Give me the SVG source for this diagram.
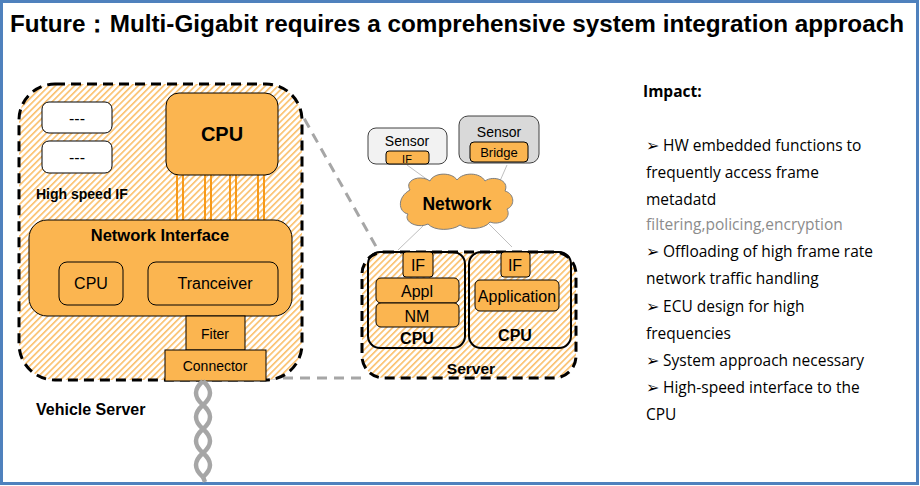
<svg xmlns="http://www.w3.org/2000/svg" width="920" height="486" viewBox="0 0 920 486">
<defs>
<pattern id="hatch" width="4.5" height="4.5" patternUnits="userSpaceOnUse" patternTransform="rotate(45)">
<rect width="4.5" height="4.5" fill="#ffffff"/>
<rect x="0" y="0" width="1.6" height="4.5" fill="#fbbf6a"/>
</pattern>
<style>
.t{font-family:"Liberation Sans",Arial,sans-serif;fill:#000}
.b{font-weight:bold}
.or{fill:#fbb550;stroke:#000;stroke-width:1}
.dash{fill:url(#hatch);stroke:#000;stroke-width:3;stroke-dasharray:10,6}
.gd{fill:none;stroke:#a6a6a6;stroke-width:3;stroke-dasharray:10,7}
.thin{fill:none;stroke:#bfbfbf;stroke-width:1}
.ol{stroke:#f79a1a;stroke-width:2}
.r{font-family:"Open Sans","Liberation Sans",sans-serif;font-size:15.5px;fill:#000}
.cab{fill:none;stroke:#a6a6a6;stroke-width:4.5}
</style>
</defs>
<rect x="1.5" y="1.5" width="916" height="482" fill="#ffffff" stroke="#4f81bd" stroke-width="3"/>
<text class="t b" x="10" y="32" font-size="24" textLength="894" lengthAdjust="spacingAndGlyphs" font-family="'Liberation Sans','Noto Sans CJK SC',sans-serif">Future：Multi-Gigabit requires a comprehensive system integration approach</text>

<g id="connectors">
<path class="gd" d="M296,104 L378,250"/>
<path class="gd" d="M266,378 L362,378"/>
<path class="thin" d="M407,165 L432,183"/>
<path class="thin" d="M507,165 L500,181"/>
<path class="thin" d="M423,226 L398,250"/>
<path class="thin" d="M488,223 L512,247"/>
</g>

<g id="vehicle-server">
<rect class="dash" x="19" y="84" width="283" height="296" rx="36"/>
<text class="t b" x="36" y="415" font-size="16">Vehicle Server</text>
</g>
<g id="hs1"><rect x="42" y="102" width="70" height="31" rx="7" fill="#fff" stroke="#000"/><text class="t" x="77" y="124" font-size="16" text-anchor="middle">---</text></g>
<g id="hs2"><rect x="42" y="141" width="70" height="32" rx="7" fill="#fff" stroke="#000"/><text class="t" x="77" y="163" font-size="16" text-anchor="middle">---</text></g>
<g id="hs-label"><text class="t b" x="36" y="199" font-size="14">High speed IF</text></g>
<g id="bus">
<line class="ol" x1="177" y1="175" x2="177" y2="221"/><line class="ol" x1="183" y1="175" x2="183" y2="221"/>
<line class="ol" x1="205" y1="175" x2="205" y2="221"/><line class="ol" x1="211" y1="175" x2="211" y2="221"/>
<line class="ol" x1="230" y1="175" x2="230" y2="221"/><line class="ol" x1="236" y1="175" x2="236" y2="221"/>
<line class="ol" x1="258" y1="175" x2="258" y2="221"/><line class="ol" x1="264" y1="175" x2="264" y2="221"/>
</g>
<g id="cpu-main"><rect class="or" x="166" y="93" width="112" height="82" rx="13"/><text class="t b" x="222" y="141" font-size="20" text-anchor="middle">CPU</text></g>
<g id="network-interface"><rect class="or" x="29" y="220" width="263" height="96" rx="18"/><text class="t b" x="160" y="241" font-size="16.5" text-anchor="middle">Network Interface</text></g>
<g id="ni-cpu"><rect class="or" x="59" y="262" width="64" height="43" rx="8"/><text class="t" x="91" y="289" font-size="16" text-anchor="middle">CPU</text></g>
<g id="tranceiver"><rect class="or" x="148" y="262" width="130" height="43" rx="8"/><text class="t" x="215" y="289" font-size="16" text-anchor="middle">Tranceiver</text></g>
<g id="fiter"><rect class="or" x="186" y="316" width="59" height="34"/><text class="t" x="215" y="339" font-size="14" text-anchor="middle">Fiter</text></g>
<g id="connector"><rect class="or" x="165" y="350" width="101" height="31"/><text class="t" x="215" y="371" font-size="14" text-anchor="middle">Connector</text></g>
<g id="cable">
<path class="cab" d="M203,381 Q217,393 203,405 T203,429 T203,453 T203,477"/>
<path class="cab" d="M203,381 Q189,393 203,405 T203,429 T203,453 T203,477"/>
<path class="cab" d="M203,477 L205,482"/>
</g>

<g id="server">
<rect class="dash" x="362" y="252" width="214" height="126" rx="22"/>
<text class="t b" x="471" y="374" font-size="15.5" text-anchor="middle">Server</text>
</g>
<g id="cpu-left">
<rect x="368" y="252" width="97" height="96" rx="12" fill="none" stroke="#000" stroke-width="2"/>
<rect class="or" x="403" y="252" width="30" height="25" rx="3"/><text class="t" x="418" y="271" font-size="16" text-anchor="middle">IF</text>
<rect class="or" x="376" y="278" width="83" height="25" rx="5"/><text class="t" x="417" y="297" font-size="16" text-anchor="middle">Appl</text>
<rect class="or" x="376" y="303" width="83" height="24" rx="5"/><text class="t" x="417" y="322" font-size="16" text-anchor="middle">NM</text>
<text class="t b" x="417" y="344" font-size="16" text-anchor="middle">CPU</text>
</g>
<g id="cpu-right">
<rect x="469" y="252" width="102" height="96" rx="12" fill="none" stroke="#000" stroke-width="2"/>
<rect class="or" x="501" y="252" width="29" height="25" rx="3"/><text class="t" x="515" y="271" font-size="16" text-anchor="middle">IF</text>
<rect class="or" x="475" y="280" width="84" height="31" rx="5"/><text class="t" x="517" y="302" font-size="16" text-anchor="middle">Application</text>
<text class="t b" x="515" y="341" font-size="16" text-anchor="middle">CPU</text>
</g>

<g id="sensor1">
<rect x="368" y="128" width="79" height="36" rx="8" fill="#f2f2f2" stroke="#404040"/>
<text class="t" x="407" y="146" font-size="14" text-anchor="middle">Sensor</text>
<rect class="or" x="386" y="151" width="43" height="13" rx="3"/>
<text class="t" x="407" y="163" font-size="11" text-anchor="middle">IF</text>
</g>
<g id="sensor2">
<rect x="459" y="116" width="80" height="47" rx="9" fill="#d9d9d9" stroke="#404040"/>
<text class="t" x="499" y="137" font-size="14" text-anchor="middle">Sensor</text>
<rect class="or" x="470" y="142" width="58" height="20" rx="4"/>
<text class="t" x="499" y="157" font-size="13" text-anchor="middle">Bridge</text>
</g>
<g id="network">
<path d="M410,190 C404,180 420,174 430,181 C434,172 452,172 457,180 C463,172 480,172 485,181 C493,175 510,180 505,191 C515,194 515,206 507,209 C512,218 500,226 490,222 C484,230 466,230 460,225 C452,231 434,231 428,224 C418,229 403,222 408,214 C398,212 397,197 410,190 Z" fill="#fbb550" stroke="#7f7f7f" stroke-width="1"/>
<text class="t b" x="457" y="210" font-size="17.5" text-anchor="middle">Network</text>
</g>

<g id="impact">
<text class="r" x="643" y="97" font-weight="bold" font-size="14">Impact:</text>
<text class="r" x="646" y="151">➢ HW embedded functions to</text>
<text class="r" x="646" y="178">frequently access frame</text>
<text class="r" x="646" y="205">metadatd</text>
<text class="r" x="646" y="230" font-size="12.5" style="fill:#8c8c8c">filtering,policing,encryption</text>
<text class="r" x="646" y="257">➢ Offloading of high frame rate</text>
<text class="r" x="646" y="284">network traffic handling</text>
<text class="r" x="646" y="312">➢ ECU design for high</text>
<text class="r" x="646" y="339">frequencies</text>
<text class="r" x="646" y="366">➢ System approach necessary</text>
<text class="r" x="646" y="393">➢ High-speed interface to the</text>
<text class="r" x="646" y="420">CPU</text>
</g>
</svg>
